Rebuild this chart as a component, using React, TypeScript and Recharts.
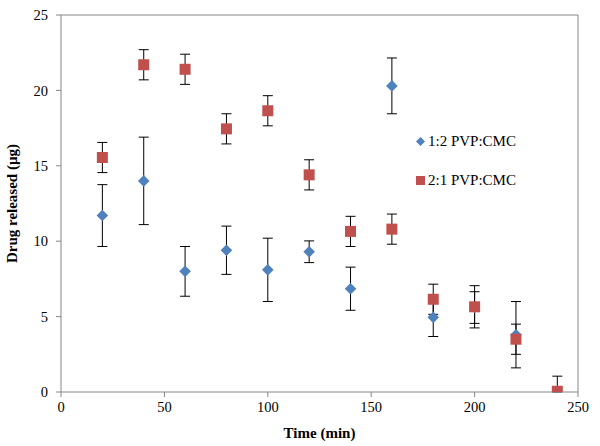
import { ScatterChart, Scatter, XAxis, YAxis, ErrorBar, ReferenceLine } from 'recharts'

const times = [20, 40, 60, 80, 100, 120, 140, 160, 180, 200, 220, 240]
const pvp12 = [11.7, 14.0, 8.0, 9.4, 8.1, 9.3, 6.85, 20.3, 4.95, 5.6, 3.8]
const pvp12Err = [2.05, 2.9, 1.65, 1.6, 2.1, 0.72, 1.43, 1.85, 1.27, 1.05, 2.2]
const pvp21 = [15.55, 21.7, 21.4, 17.45, 18.65, 14.4, 10.65, 10.8, 6.15, 5.65, 3.5, 0.05]
const pvp21Err = [1.0, 1.0, 1.0, 1.0, 1.0, 1.0, 1.0, 1.0, 1.0, 1.4, 1.0, 1.0]
const xTicks = [0, 50, 100, 150, 200, 250]
const yTicks = [0, 5, 10, 15, 20, 25]
const legendNames = ['1:2 PVP:CMC', '2:1 PVP:CMC']

const blue = '#4F81BD'
const red = '#C0504D'
const grey = '#868686'
const font = "'Liberation Serif', 'DejaVu Serif', serif"

// lower whisker is cut at the x axis, like the plot area clip in the original
const series12 = pvp12.map((y, i) => ({ x: times[i], y, err: [Math.min(pvp12Err[i], y), pvp12Err[i]] }))
const series21 = pvp21.map((y, i) => ({ x: times[i], y, err: [Math.min(pvp21Err[i], y), pvp21Err[i]] }))

function Diamond(props: any) {
  const { cx, cy } = props
  const r = 5.8
  return <polygon points={`${cx},${cy - r} ${cx + r},${cy} ${cx},${cy + r} ${cx - r},${cy}`} fill={blue} />
}

function Square(props: any) {
  const { cx, cy } = props
  const s = 11
  return <rect x={cx - s / 2} y={cy - s / 2} width={s} height={s} fill={red} />
}

function LegendBox() {
  return (
    <div style={{ position: 'absolute', left: 415, top: 131, fontFamily: font, fontSize: 15, color: '#000' }}>
      {legendNames.map((name, i) => (
        <div key={name} style={{ display: 'flex', alignItems: 'center', height: 20, marginBottom: 19 }}>
          <svg width={11} height={11} style={{ marginRight: 2 }}>
            {i === 0 ? (
              <polygon points="5.5,1 10,5.5 5.5,10 1,5.5" fill={blue} />
            ) : (
              <rect x={1} y={1} width={9} height={9} fill={red} />
            )}
          </svg>
          <span>{name}</span>
        </div>
      ))}
    </div>
  )
}

export default function App() {
  const tickStyle = { fontSize: 14.5, fill: '#000', fontFamily: font }
  const titleStyle = { fontSize: 15, fontWeight: 'bold', fill: '#000', textAnchor: 'middle', fontFamily: font }
  return (
    <div style={{ position: 'absolute', left: 0, top: 0, width: 600, height: 446, background: '#fff', fontFamily: font }}>
      <ScatterChart width={600} height={446} margin={{ top: 15, right: 22, bottom: 0, left: 0 }} style={{ fontFamily: font }}>
        <XAxis
          type="number"
          dataKey="x"
          domain={[0, 250]}
          allowDataOverflow
          ticks={xTicks}
          height={54}
          stroke={grey}
          tickSize={5}
          tickMargin={5}
          tick={tickStyle}
          label={{ value: 'Time (min)', position: 'insideBottom', offset: 8, style: titleStyle }}
        />
        <YAxis
          type="number"
          dataKey="y"
          domain={[0, 25]}
          allowDataOverflow
          ticks={yTicks}
          width={61}
          stroke={grey}
          tickSize={5}
          tickMargin={8}
          tick={tickStyle}
          label={{ value: 'Drug released (µg)', angle: -90, position: 'insideLeft', offset: 12, style: titleStyle }}
        />
        <ReferenceLine y={25} stroke={grey} />
        <ReferenceLine x={250} stroke={grey} />
        <Scatter name={legendNames[0]} data={series12} shape={<Diamond />} isAnimationActive={false}>
          <ErrorBar dataKey="err" direction="y" width={5} stroke="#000" strokeWidth={1} />
        </Scatter>
        <Scatter name={legendNames[1]} data={series21} shape={<Square />} isAnimationActive={false}>
          <ErrorBar dataKey="err" direction="y" width={5} stroke="#000" strokeWidth={1} />
        </Scatter>
      </ScatterChart>
      <LegendBox />
    </div>
  )
}
